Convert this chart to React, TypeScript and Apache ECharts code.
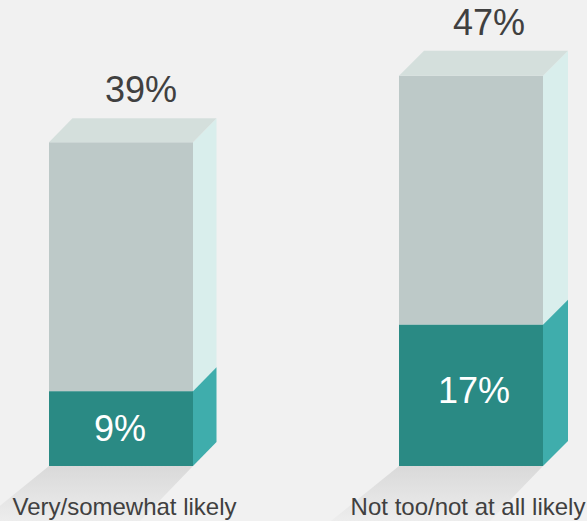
import React, { useEffect, useRef } from "react";
import * as echarts from "echarts";

const categories = ["Very/somewhat likely", "Not too/not at all likely"];
const lowerValues = [9, 17];
const totalValues = [39, 47];

const BG = "#f1f1f1";
const HALF_W = 72;
const DEPTH_X = [23.5, 25];
const DEPTH_Y = [24, 25];
const TOP_LABEL_DX = [20, 18];
const INNER_LABEL_DX = [-1, 3];
const INNER_LABEL_DY = [0, -5];

const faces = (api: any, idx: number, from: number, to: number, front: string, side: string) => {
  const [cx, y0] = api.coord([idx, from]);
  const [, y1] = api.coord([idx, to]);
  const l = cx - HALF_W;
  const r = cx + HALF_W;
  const dx = DEPTH_X[idx];
  const dy = DEPTH_Y[idx];
  return [
    { type: "polygon", shape: { points: [[r, y0], [r + dx, y0 - dy], [r + dx, y1 - dy], [r, y1]] }, style: { fill: side } },
    { type: "rect", shape: { x: l, y: y1, width: r - l, height: y0 - y1 }, style: { fill: front } },
  ];
};

export default function App() {
  const ref = useRef<HTMLDivElement>(null);
  useEffect(() => {
    document.body.style.margin = "0";
    const chart = echarts.init(ref.current!, null, { renderer: "svg" });
    const font = "'Liberation Sans', Arial, sans-serif";
    chart.setOption({
      animation: false,
      backgroundColor: BG,
      grid: { left: 121, right: 116, top: 1, bottom: 55, outerBoundsMode: "none" },
      xAxis: {
        type: "category",
        data: categories,
        boundaryGap: false,
        z: 10,
        axisLine: { show: false },
        axisTick: { show: false },
        axisLabel: {
          interval: 0,
          margin: 28,
          formatter: (v: string, i: number) => `{${i === 0 ? "a" : "b"}|${v}}`,
          rich: {
            a: { padding: [0, 0, 0, 7], fontSize: 24, fontFamily: font, color: "#404040" },
            b: { padding: [0, 6, 0, 0], fontSize: 24, fontFamily: font, color: "#404040" },
          },
        },
      },
      yAxis: { type: "value", min: 0, max: 56, show: false, splitLine: { show: false } },
      series: [
        {
          type: "custom",
          clip: false,
          silent: true,
          z: 1,
          data: categories.map((_, i) => [i, 0]),
          renderItem: (_: any, api: any) => {
            const [cx, y] = api.coord([api.value(0), 0]);
            const l = cx - HALF_W;
            const r = cx + HALF_W;
            return {
              type: "polygon",
              shape: { points: [[l, y], [r, y], [r - 53, y + 55], [l - 68, y + 55]] },
              style: {
                fill: {
                  type: "linear", x: 0, y: 0, x2: 0, y2: 1,
                  colorStops: [{ offset: 0, color: "#d9d9d9" }, { offset: 1, color: "#ededed" }],
                },
              },
            };
          },
        },
        {
          type: "custom",
          clip: false,
          silent: true,
          z: 2,
          data: categories.map((_, i) => [i, lowerValues[i], totalValues[i]]),
          renderItem: (_: any, api: any) => {
            const i = api.value(0);
            const low = api.value(1);
            const total = api.value(2);
            const [cx, yTop] = api.coord([i, total]);
            const [, yLow] = api.coord([i, low]);
            const [, yBase] = api.coord([i, 0]);
            const l = cx - HALF_W;
            const r = cx + HALF_W;
            const dx = DEPTH_X[i];
            const dy = DEPTH_Y[i];
            return {
              type: "group",
              children: [
                ...faces(api, i, low, total, "#bdc9c8", "#d9eeec"),
                ...faces(api, i, 0, low, "#2a8a84", "#3fadac"),
                {
                  type: "polygon",
                  shape: { points: [[l, yTop], [r, yTop], [r + dx, yTop - dy], [l + dx, yTop - dy]] },
                  style: { fill: "#d4dfdc" },
                },
                {
                  type: "text",
                  x: cx + TOP_LABEL_DX[i],
                  y: yTop - 53,
                  style: {
                    text: `${total}%`, fontSize: 36, fontFamily: font, fill: "#404040",
                    align: "center", verticalAlign: "middle",
                  },
                },
                {
                  type: "text",
                  x: cx + INNER_LABEL_DX[i],
                  y: (yLow + yBase) / 2 + INNER_LABEL_DY[i],
                  style: {
                    text: `${low}%`, fontSize: 36, fontFamily: font, fill: "#ffffff",
                    align: "center", verticalAlign: "middle",
                  },
                },
              ],
            };
          },
        },
      ],
    });
    return () => chart.dispose();
  }, []);
  return <div ref={ref} style={{ width: 587, height: 521 }} />;
}
